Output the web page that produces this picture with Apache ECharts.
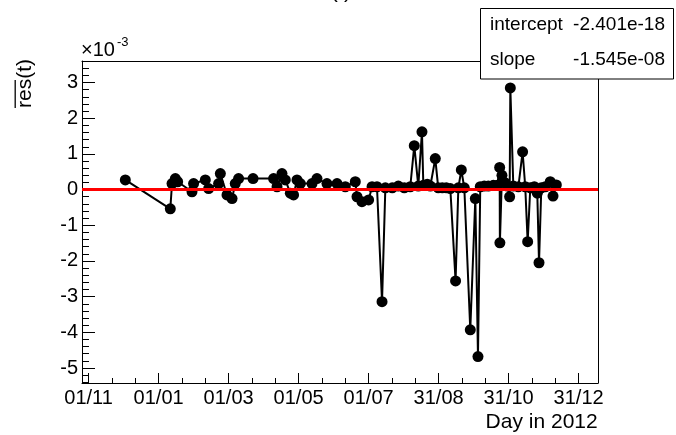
<!DOCTYPE html>
<html><head><meta charset="utf-8">
<script src="https://cdn.jsdelivr.net/npm/echarts@6/dist/echarts.min.js"></script>
<style>html,body{margin:0;padding:0;background:#fff}#c{width:676px;height:435px}</style>
</head><body><div id="c"></div>
<script>
// x: days since 01/11/2011 ; y: mean residual in units of 1e-3
const dayValues = [32.0,71.2,72.7,75.6,77.6,90.1,91.5,101.7,104.6,113.3,114.8,120.6,125.0,127.8,130.7,143.3,
  161.2,164.2,168.5,171.4,175.8,178.6,181.6,184.5,194.7,199.0,207.7,216.5,223.7,232.4,233.9,238.2,244.0,247.0,251.3,
  255.7,258.6,264.6,269.9,275.1,280.3,283.8,287.3,290.5,291.7,295.1,297.8,302.1,304.7,308.2,311.7,315.2,
  319.8,322.2,324.8,327.4,332.6,337.0,339.3,341.3,344.8,348.3,352.7,356.1,358.2,358.4,360.2,362.5,364.9,
  366.9,367.5,370.1,374.5,378.2,380.5,382.6,384.9,388.4,391.0,392.5,394.5,398.0,402.3,404.7,407.6];
const resValues = [0.27,-0.54,0.17,0.31,0.22,-0.06,0.17,0.27,0.03,0.17,0.45,-0.15,-0.25,0.17,0.31,0.31,
  0.31,0.08,0.45,0.27,-0.10,-0.15,0.27,0.17,0.17,0.31,0.17,0.17,0.08,0.22,-0.20,-0.34,-0.29,0.08,0.08,
  -3.14,0.05,0.05,0.10,0.05,0.08,1.23,0.10,1.62,0.12,0.15,0.10,0.87,0.05,0.05,0.05,0.03,
  -2.56,0.05,0.55,0.05,-3.93,-0.25,-4.68,0.08,0.10,0.10,0.12,0.12,0.62,-1.49,0.40,0.20,0.10,
  -0.20,2.85,0.10,0.08,1.06,0.08,-1.46,0.05,0.08,-0.10,-2.05,0.05,0.08,0.22,-0.18,0.13];
const xTickDays = [0,61,122,183,244,305,366,427];
const xTickLabels = ['01/11','01/01','01/03','01/05','01/07','31/08','31/10','31/12'];
const yTickValues = [-5,-4,-3,-2,-1,0,1,2,3];
const fitNames = ['intercept','slope'];
const fitValues = ['-2.401e-18','-1.545e-08'];
const fitLevel = 0;

const xMin = -5.75, xMax = 443.9, yMin = -5.42, yMax = 3.604;
const FONT = "'Liberation Sans', Arial, sans-serif";

const xMinor = [];
xTickDays.forEach((d, i) => { if (i < xTickDays.length - 1) { const s = (xTickDays[i+1]-d)/3; xMinor.push(d+s, d+2*s); } });
const yMinor = [];
for (let k = -27; k <= 18; k++) { if (k % 5 !== 0) yMinor.push(k/5); }

const points = dayValues.map((d, i) => [d, resValues[i]]);

const chart = echarts.init(document.getElementById('c'), null, {renderer: 'canvas'});
const lineStyleAxis = {color: '#000', width: 1};
chart.setOption({
  animation: false,
  backgroundColor: '#fff',
  grid: {left: 82, top: 61, width: 516, height: 322, containLabel: false},
  xAxis: [
    {type: 'value', min: xMin, max: xMax, position: 'bottom',
     axisLine: {show: true, onZero: false, lineStyle: lineStyleAxis},
     axisTick: {show: true, inside: true, length: 10, customValues: xTickDays, lineStyle: lineStyleAxis},
     axisLabel: {show: true, customValues: xTickDays, margin: 5, color: '#000', fontSize: 20, fontFamily: FONT,
       formatter: v => { const i = xTickDays.indexOf(v); return i >= 0 ? xTickLabels[i] : ''; }},
     splitLine: {show: false}},
    {type: 'value', min: xMin, max: xMax, position: 'bottom',
     axisLine: {show: false, onZero: false},
     axisTick: {show: true, inside: true, length: 5, customValues: xMinor, lineStyle: lineStyleAxis},
     axisLabel: {show: false}, splitLine: {show: false}},
    {type: 'value', min: xMin, max: xMax, position: 'top',
     axisLine: {show: true, onZero: false, lineStyle: lineStyleAxis},
     axisTick: {show: false}, axisLabel: {show: false}, splitLine: {show: false}}
  ],
  yAxis: [
    {type: 'value', min: yMin, max: yMax, position: 'left',
     axisLine: {show: true, onZero: false, lineStyle: lineStyleAxis},
     axisTick: {show: true, inside: true, length: 13, customValues: yTickValues, lineStyle: lineStyleAxis},
     axisLabel: {show: true, customValues: yTickValues, margin: 4, color: '#000', fontSize: 20, fontFamily: FONT},
     splitLine: {show: false}},
    {type: 'value', min: yMin, max: yMax, position: 'left',
     axisLine: {show: false, onZero: false},
     axisTick: {show: true, inside: true, length: 7, customValues: yMinor, lineStyle: lineStyleAxis},
     axisLabel: {show: false}, splitLine: {show: false}},
    {type: 'value', min: yMin, max: yMax, position: 'right',
     axisLine: {show: true, onZero: false, lineStyle: lineStyleAxis},
     axisTick: {show: false}, axisLabel: {show: false}, splitLine: {show: false}}
  ],
  series: [
    {type: 'line', data: points, xAxisIndex: 0, yAxisIndex: 0,
     symbol: 'circle', symbolSize: 11, showSymbol: true,
     itemStyle: {color: '#000'}, lineStyle: {color: '#000', width: 2}, z: 2},
    {type: 'line', data: [[xMin, fitLevel], [xMax, fitLevel]], xAxisIndex: 0, yAxisIndex: 0,
     symbol: 'none', lineStyle: {color: '#ff0000', width: 3}, z: 3}
  ],
  graphic: [
    {type: 'group', x: 25.7, y: 108, rotation: Math.PI/2, children: [
      {type: 'text', x: 0, y: 0, style: {text: 'res(t)', fill: '#000', font: '21px ' + FONT, align: 'left', verticalAlign: 'middle'}},
      {type: 'line', shape: {x1: 0, y1: -10.5, x2: 28, y2: -10.5}, style: {stroke: '#000', lineWidth: 1.3}}
    ]},
    {type: 'text', x: 81, y: 50, style: {text: '×10', fill: '#000', font: '20px ' + FONT, align: 'left', verticalAlign: 'middle'}},
    {type: 'text', x: 117, y: 42, style: {text: '-3', fill: '#000', font: '13px ' + FONT, align: 'left', verticalAlign: 'middle'}},
    {type: 'text', x: 341, y: -8.6, style: {text: '(t)', fill: '#000', font: '22px ' + FONT, align: 'center', verticalAlign: 'middle'}},
    {type: 'text', x: 597.7, y: 422, style: {text: 'Day in 2012', fill: '#000', font: '21px ' + FONT, align: 'right', verticalAlign: 'middle'}},
    {type: 'rect', z: 100, shape: {x: 480.5, y: 8.5, width: 193, height: 70.5}, style: {fill: '#fff', stroke: '#000', lineWidth: 1}},
    {type: 'text', z: 101, x: 490, y: 25, style: {text: fitNames[0], fill: '#000', font: '19px ' + FONT, align: 'left', verticalAlign: 'middle'}},
    {type: 'text', z: 101, x: 665, y: 25, style: {text: fitValues[0], fill: '#000', font: '19px ' + FONT, align: 'right', verticalAlign: 'middle'}},
    {type: 'text', z: 101, x: 490, y: 60, style: {text: fitNames[1], fill: '#000', font: '19px ' + FONT, align: 'left', verticalAlign: 'middle'}},
    {type: 'text', z: 101, x: 665, y: 60, style: {text: fitValues[1], fill: '#000', font: '19px ' + FONT, align: 'right', verticalAlign: 'middle'}}
  ]
});
</script></body></html>
